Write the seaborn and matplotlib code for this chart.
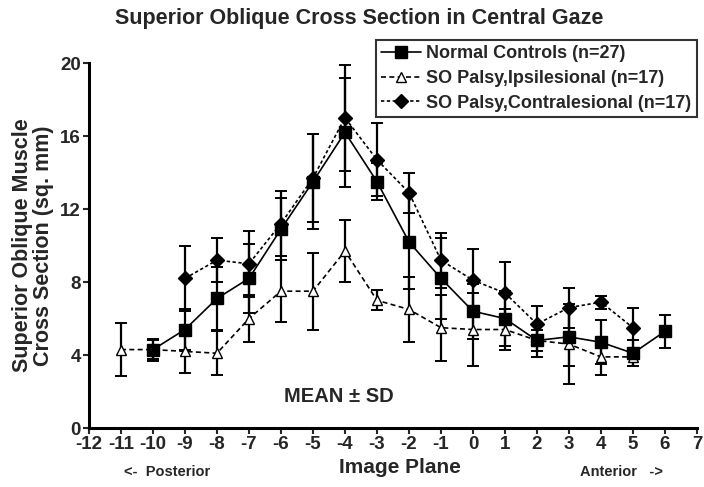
import numpy as np
import pandas as pd
import matplotlib
matplotlib.use("Agg")
import matplotlib.pyplot as plt
import seaborn as sns

# ---------------------------------------------------------------------------
# Data (image plane vs cross section, sq. mm)
# ---------------------------------------------------------------------------
normal_plane = [-10, -9, -8, -7, -6, -5, -4, -3, -2, -1, 0, 1, 2, 3, 4, 5, 6]
normal_mean = [4.3, 5.4, 7.1, 8.2, 10.9, 13.5, 16.2, 13.5, 10.2, 8.2, 6.4, 6.0, 4.8, 5.0, 4.7, 4.1, 5.3]
normal_sd = [0.5, 1.1, 1.7, 1.9, 1.7, 2.6, 3.0, 1.0, 2.6, 2.2, 1.5, 1.5, 0.9, 1.6, 1.2, 0.7, 0.9]

ipsi_plane = [-11, -10, -9, -8, -7, -6, -5, -4, -3, -2, -1, 0, 1, 2, 3, 4, 5]
ipsi_mean = [4.3, 4.3, 4.2, 4.1, 6.0, 7.5, 7.5, 9.7, 7.0, 6.5, 5.5, 5.4, 5.4, 4.8, 4.6, 3.9, 3.9]
ipsi_sd = [1.45, 0.6, 1.2, 1.2, 1.3, 1.7, 2.1, 1.7, 0.55, 1.8, 1.8, 2.0, 1.1, 0.6, 2.2, 1.0, 0.5]

contra_plane = [-9, -8, -7, -6, -5, -4, -3, -2, -1, 0, 1, 2, 3, 4, 5]
contra_mean = [8.2, 9.2, 9.0, 11.2, 13.7, 17.0, 14.7, 12.9, 9.2, 8.1, 7.4, 5.7, 6.6, 6.9, 5.5]
contra_sd = [1.8, 1.2, 1.8, 1.8, 2.4, 2.9, 2.0, 1.1, 1.5, 1.7, 1.7, 1.0, 1.1, 0.35, 1.1]

series_labels = [
    "Normal Controls (n=27)",
    "SO Palsy,Ipsilesional (n=17)",
    "SO Palsy,Contralesional (n=17)",
]
x_ticks = list(range(-12, 8))
y_ticks = [0, 4, 8, 12, 16, 20]

# ---------------------------------------------------------------------------
# Plot
# ---------------------------------------------------------------------------
sns.set_theme(style="white")
plt.rcParams["font.family"] = ["Liberation Sans", "DejaVu Sans"]
plt.rcParams["font.weight"] = "bold"
plt.rcParams["axes.unicode_minus"] = False

df = pd.concat([
    pd.DataFrame({"plane": normal_plane, "mean": normal_mean, "sd": normal_sd, "group": series_labels[0]}),
    pd.DataFrame({"plane": ipsi_plane, "mean": ipsi_mean, "sd": ipsi_sd, "group": series_labels[1]}),
    pd.DataFrame({"plane": contra_plane, "mean": contra_mean, "sd": contra_sd, "group": series_labels[2]}),
])

fig = plt.figure(figsize=(7.04, 4.87), dpi=100)
ax = fig.add_axes([0.1264, 0.121, 0.8636, 0.7496])

styles = {
    series_labels[0]: dict(marker="s", ls="-", mfc="black", ms=8.5, z=4),
    series_labels[1]: dict(marker="^", ls=(0, (3, 2)), mfc="white", ms=7.5, z=3),
    series_labels[2]: dict(marker="D", ls=(0, (2, 1.5)), mfc="black", ms=7, z=5),
}

for name in series_labels:
    sub = df[df["group"] == name]
    st = styles[name]
    ax.errorbar(sub["plane"], sub["mean"], yerr=sub["sd"], fmt="none",
                ecolor="black", elinewidth=1.6, capsize=4, capthick=1.4, zorder=2)
    sns.lineplot(data=sub, x="plane", y="mean", ax=ax, color="black",
                 linestyle=st["ls"], linewidth=1.2, marker=st["marker"],
                 markersize=st["ms"], markerfacecolor=st["mfc"],
                 markeredgecolor="black", markeredgewidth=1.0,
                 label=name, zorder=st["z"])

ax.set_xlim(-12, 7)
ax.set_ylim(0, 20)
ax.set_xticks(x_ticks)
ax.set_yticks(y_ticks)
ax.tick_params(axis="both", labelsize=13.5, length=4, width=1.5, direction="out",
               bottom=True, left=True, pad=2)
for lab in ax.get_xticklabels() + ax.get_yticklabels():
    lab.set_fontweight("bold")

sns.despine(ax=ax)
for side in ["left", "bottom"]:
    ax.spines[side].set_linewidth(2.2)
    ax.spines[side].set_color("black")

ax.set_xlabel("")
ax.set_ylabel("Superior Oblique Muscle\nCross Section (sq. mm)", fontsize=15.5,
              fontweight="bold", labelpad=4, linespacing=1.0)

ax.text(-4.2, 1.75, "MEAN \u00b1 SD", fontsize=14.5, fontweight="bold", ha="center", va="center")

fig.text(0.51, 0.963, "Superior Oblique Cross Section in Central Gaze", fontsize=15.5,
         fontweight="bold", ha="center", va="center")
fig.text(0.568, 0.040, "Image Plane", fontsize=15, fontweight="bold", ha="center", va="center")
fig.text(0.238, 0.030, "<-  Posterior", fontsize=10.5, fontweight="bold", ha="center", va="center")
fig.text(0.883, 0.030, "Anterior   ->", fontsize=10.5, fontweight="bold", ha="center", va="center")

leg = ax.legend(loc="upper right", bbox_to_anchor=(0.99, 0.918),
                bbox_transform=fig.transFigure, frameon=True, fancybox=False,
                edgecolor="black", fontsize=13, handlelength=2.2,
                borderpad=0.3, labelspacing=0.42, handletextpad=0.3,
                borderaxespad=0)
leg.get_frame().set_linewidth(1.5)
for t in leg.get_texts():
    t.set_fontweight("bold")

fig.savefig("out.png", dpi=100)
